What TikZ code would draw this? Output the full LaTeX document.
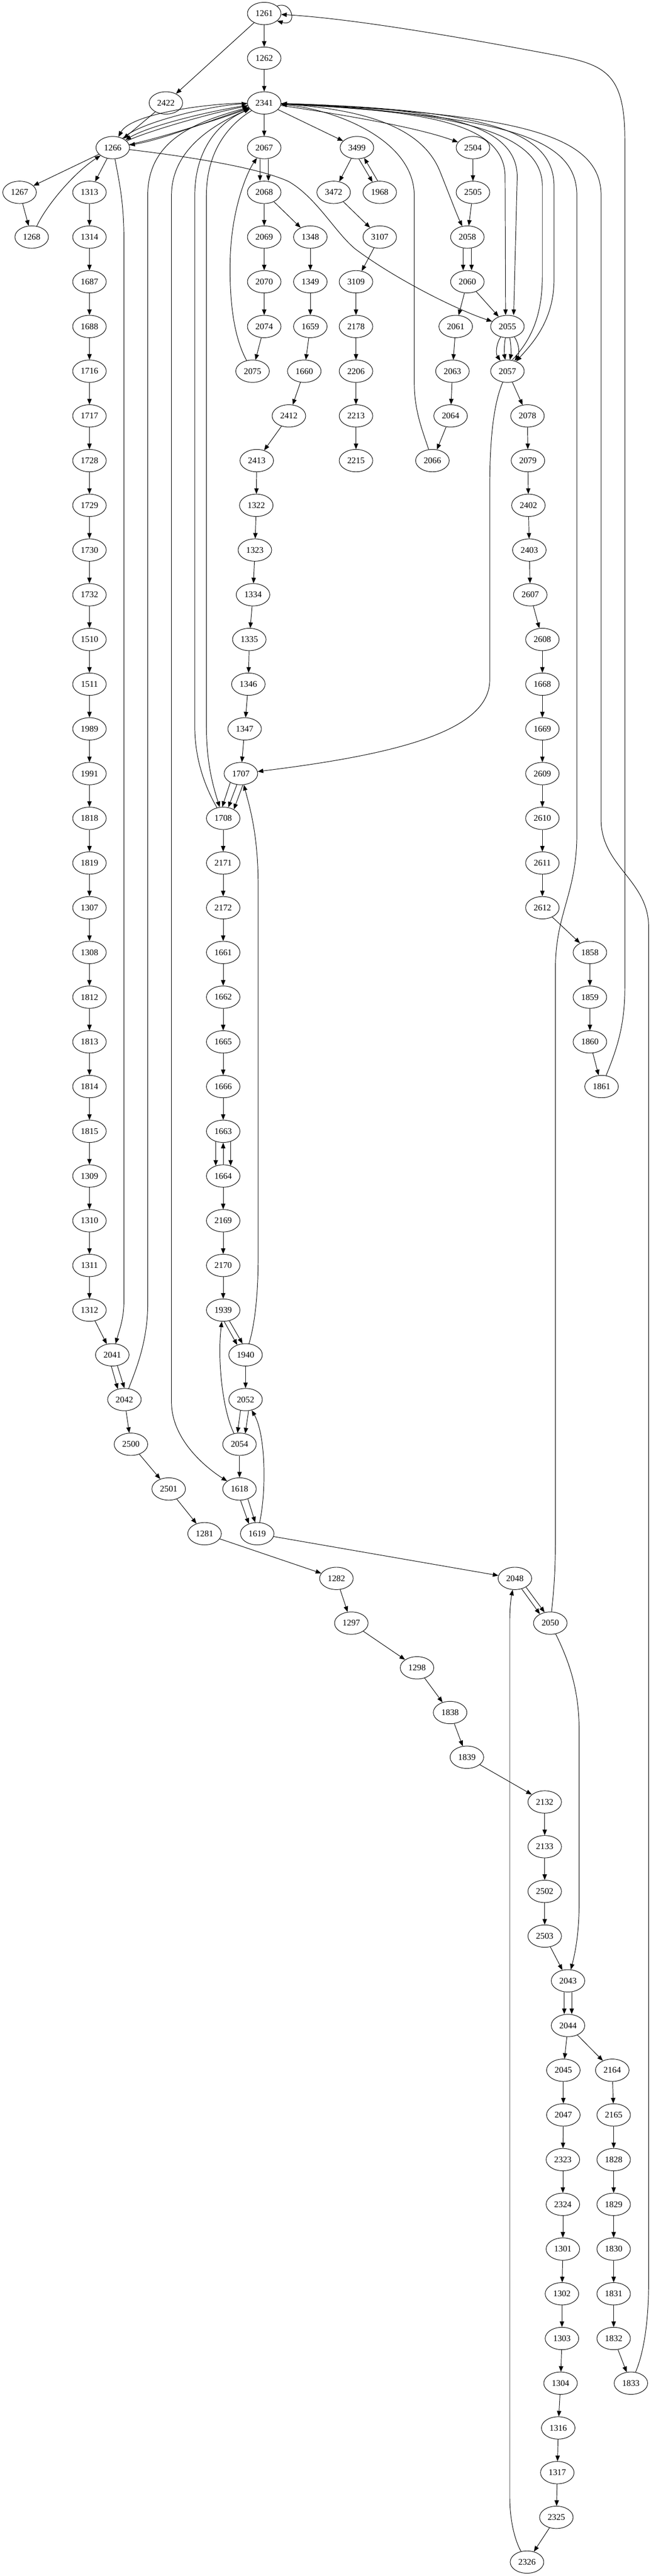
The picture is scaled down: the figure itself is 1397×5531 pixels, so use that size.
\documentclass[tikz,border=0pt]{standalone}
\usepackage{fontspec}
\setmainfont{Liberation Serif}
\usetikzlibrary{arrows.meta,shapes.geometric}
\newcommand\gvn[3]{\node[nd] (n#1) at (#2,{29+96*#3}) {#1};}
\begin{document}
\begin{tikzpicture}[x=0.75pt,y=-0.75pt,
  nd/.style={draw,ellipse,minimum width=54pt,minimum height=36pt,inner sep=0pt,line width=0.8pt,font=\fontsize{14}{16}\selectfont},
  ed/.style={draw,line width=0.8pt,-{Triangle[length=9pt,width=7pt]}}]
\useasboundingbox (0,0) rectangle (1397,5531);
\fill[white] (0,0) rectangle (1397,5531);
% nodes
\gvn{1261}{567}{0}
\gvn{1262}{567}{1}
\gvn{2422}{356}{2}
\gvn{2341}{567}{2}
\gvn{1266}{242}{3}
\gvn{2067}{567}{3}
\gvn{3499}{766}{3}
\gvn{2504}{1015}{3}
\gvn{1267}{42}{4}
\gvn{1313}{192}{4}
\gvn{2068}{567}{4}
\gvn{3472}{716}{4}
\gvn{1968}{815}{4}
\gvn{2505}{1015}{4}
\gvn{1268}{68}{5}
\gvn{1314}{192}{5}
\gvn{2069}{567}{5}
\gvn{1348}{666}{5}
\gvn{3107}{815}{5}
\gvn{2058}{1003}{5}
\gvn{1687}{192}{6}
\gvn{2070}{567}{6}
\gvn{1349}{666}{6}
\gvn{3109}{764}{6}
\gvn{2060}{1003}{6}
\gvn{1688}{192}{7}
\gvn{2074}{567}{7}
\gvn{1659}{666}{7}
\gvn{2178}{764}{7}
\gvn{2061}{978}{7}
\gvn{2055}{1089}{7}
\gvn{1716}{192}{8}
\gvn{2075}{542}{8}
\gvn{1660}{653}{8}
\gvn{2206}{764}{8}
\gvn{2063}{971}{8}
\gvn{2057}{1089}{8}
\gvn{1717}{192}{9}
\gvn{2412}{620}{9}
\gvn{2213}{764}{9}
\gvn{2064}{967}{9}
\gvn{2078}{1132}{9}
\gvn{1728}{192}{10}
\gvn{2413}{551}{10}
\gvn{2215}{764}{10}
\gvn{2066}{928}{10}
\gvn{2079}{1133}{10}
\gvn{1729}{192}{11}
\gvn{1322}{550}{11}
\gvn{2402}{1134}{11}
\gvn{1730}{192}{12}
\gvn{1323}{547}{12}
\gvn{2403}{1136}{12}
\gvn{1732}{192}{13}
\gvn{1334}{543}{13}
\gvn{2607}{1138}{13}
\gvn{1510}{192}{14}
\gvn{1335}{535}{14}
\gvn{2608}{1164}{14}
\gvn{1511}{192}{15}
\gvn{1346}{533}{15}
\gvn{1668}{1164}{15}
\gvn{1989}{192}{16}
\gvn{1347}{525}{16}
\gvn{1669}{1164}{16}
\gvn{1991}{192}{17}
\gvn{1707}{517}{17}
\gvn{2609}{1164}{17}
\gvn{1818}{192}{18}
\gvn{1708}{479}{18}
\gvn{2610}{1164}{18}
\gvn{1819}{192}{19}
\gvn{2171}{479}{19}
\gvn{2611}{1164}{19}
\gvn{1307}{192}{20}
\gvn{2172}{479}{20}
\gvn{2612}{1164}{20}
\gvn{1308}{192}{21}
\gvn{1661}{479}{21}
\gvn{1858}{1266}{21}
\gvn{1812}{192}{22}
\gvn{1662}{479}{22}
\gvn{1859}{1266}{22}
\gvn{1813}{192}{23}
\gvn{1665}{479}{23}
\gvn{1860}{1266}{23}
\gvn{1814}{192}{24}
\gvn{1666}{479}{24}
\gvn{1861}{1291}{24}
\gvn{1815}{192}{25}
\gvn{1663}{479}{25}
\gvn{1309}{192}{26}
\gvn{1664}{479}{26}
\gvn{1310}{192}{27}
\gvn{2169}{479}{27}
\gvn{1311}{192}{28}
\gvn{2170}{479}{28}
\gvn{1312}{192}{29}
\gvn{1939}{479}{29}
\gvn{2041}{241}{30}
\gvn{1940}{527}{30}
\gvn{2042}{267}{31}
\gvn{2052}{527}{31}
\gvn{2500}{281}{32}
\gvn{2054}{514}{32}
\gvn{2501}{362}{33}
\gvn{1618}{514}{33}
\gvn{1281}{439}{34}
\gvn{1619}{552}{34}
\gvn{1282}{722}{35}
\gvn{2048}{1105}{35}
\gvn{1297}{754}{36}
\gvn{2050}{1181}{36}
\gvn{1298}{895}{37}
\gvn{1838}{966}{38}
\gvn{1839}{1002}{39}
\gvn{2132}{1169}{40}
\gvn{2133}{1169}{41}
\gvn{2502}{1169}{42}
\gvn{2503}{1169}{43}
\gvn{2043}{1219}{44}
\gvn{2044}{1219}{45}
\gvn{2045}{1209}{46}
\gvn{2164}{1314}{46}
\gvn{2047}{1209}{47}
\gvn{2165}{1317}{47}
\gvn{2323}{1208}{48}
\gvn{1828}{1317}{48}
\gvn{2324}{1208}{49}
\gvn{1829}{1317}{49}
\gvn{1301}{1208}{50}
\gvn{1830}{1317}{50}
\gvn{1302}{1206}{51}
\gvn{1831}{1317}{51}
\gvn{1303}{1206}{52}
\gvn{1832}{1317}{52}
\gvn{1304}{1203}{53}
\gvn{1833}{1354}{53}
\gvn{1316}{1198}{54}
\gvn{1317}{1196}{55}
\gvn{2325}{1194}{56}
\gvn{2326}{1131}{57}
% straight edges
\foreach \a/\b in {1261/1262,1261/2422,1262/2341,2422/1266,2341/2067,2341/3499,
 1266/1267,1266/1313,1267/1268,2068/2069,2068/1348,3499/3472,2504/2505,2505/2058,
 1313/1314,1314/1687,2069/2070,1348/1349,3472/3107,2060/2061,2060/2055,
 1687/1688,2070/2074,1349/1659,3107/3109,1688/1716,2074/2075,1659/1660,3109/2178,
 2061/2063,1716/1717,1660/2412,2178/2206,2063/2064,2057/2078,1717/1728,2412/2413,
 2206/2213,2064/2066,2078/2079,1728/1729,2413/1322,2213/2215,2079/2402,1729/1730,
 1322/1323,2402/2403,1730/1732,1323/1334,2403/2607,1732/1510,1334/1335,2607/2608,
 1510/1511,1335/1346,2608/1668,1511/1989,1346/1347,1668/1669,1989/1991,1347/1707,
 1669/2609,1991/1818,2609/2610,1818/1819,1708/2171,2610/2611,1819/1307,2171/2172,
 2611/2612,1307/1308,2172/1661,2612/1858,1308/1812,1661/1662,1858/1859,1812/1813,
 1662/1665,1859/1860,1813/1814,1665/1666,1860/1861,1814/1815,1666/1663,1815/1309,
 1309/1310,1664/2169,1310/1311,2169/2170,1311/1312,2170/1939,1312/2041,1940/2052,
 2042/2500,2054/1618,2500/2501,2501/1281,1281/1282,1619/2048,1282/1297,1297/1298,
 1298/1838,1838/1839,1839/2132,2132/2133,2133/2502,2502/2503,2503/2043,2044/2045,
 2044/2164,2045/2047,2164/2165,2047/2323,2165/1828,2323/2324,1828/1829,2324/1301,
 1829/1830,1301/1302,1830/1831,1302/1303,1831/1832,1303/1304,1832/1833,1304/1316,
 1316/1317,1317/2325,2325/2326}
 {\draw[ed] (n\a) -- (n\b);}
% self loop
\draw[ed] (n1261.30) .. controls (628,0) and (640,58) .. (n1261.-30);
% parallel / paired edges
\draw[ed] ([xshift=-6.75pt]n2067.south) -- ([xshift=-6.75pt]n2068.north);
\draw[ed] ([xshift=6.75pt]n2067.south) -- ([xshift=6.75pt]n2068.north);
\draw[ed] (n3499.-80) -- (n1968.125);
\draw[ed] (n1968.100) -- (n3499.-55);
\draw[ed] ([xshift=-6.75pt]n2058.south) -- ([xshift=-6.75pt]n2060.north);
\draw[ed] ([xshift=6.75pt]n2058.south) -- ([xshift=6.75pt]n2060.north);
\draw[ed] (n2055) .. controls (1064,740) and (1064,760) .. (n2057);
\draw[ed] (n2055) .. controls (1082,740) and (1082,760) .. (n2057);
\draw[ed] (n2055) .. controls (1097,740) and (1097,760) .. (n2057);
\draw[ed] (n2055) .. controls (1115,740) and (1115,760) .. (n2057);
\draw[ed] (n1707.-140) -- (n1708.95);
\draw[ed] (n1707.-110) -- (n1708.65);
\draw[ed] (n1707.-80) -- (n1708.40);
\draw[ed] ([xshift=-12pt,yshift=1.9pt]n1663.south) -- ([xshift=-12pt,yshift=-1.9pt]n1664.north);
\draw[ed] (n1664) -- (n1663);
\draw[ed] ([xshift=12pt,yshift=1.9pt]n1663.south) -- ([xshift=12pt,yshift=-1.9pt]n1664.north);
\draw[ed] (n1939.-85) -- (n1940.130);
\draw[ed] (n1939.-60) -- (n1940.105);
\draw[ed] (n2041.-95) -- (n2042.122);
\draw[ed] (n2041.-65) -- (n2042.90);
\draw[ed] (n2052.-115) -- (n2054.100);
\draw[ed] (n2052.-75) -- (n2054.62);
\draw[ed] (n1618.-85) -- (n1619.130);
\draw[ed] (n1618.-50) -- (n1619.100);
\draw[ed] (n2048.-57) -- (n2050.139);
\draw[ed] (n2048.-38) -- (n2050.118);
\draw[ed] ([xshift=-6pt]n2043.south) -- ([xshift=-6pt]n2044.north);
\draw[ed] ([xshift=6pt]n2043.south) -- ([xshift=6pt]n2044.north);
% 2341 <-> 1266 bundle
\draw[ed] (n2341) .. controls (440,222) and (280,245) .. (n1266);
\draw[ed] (n2341) .. controls (450,238) and (320,270) .. (n1266);
\draw[ed] (n2341) .. controls (460,255) and (350,300) .. (n1266);
\draw[ed] (n1266) .. controls (300,262) and (455,226) .. (n2341);
\draw[ed] (n1266) .. controls (320,280) and (465,240) .. (n2341);
\draw[ed] (n1266) .. controls (340,298) and (475,254) .. (n2341);
% curved edges top
\draw[ed] (n2341) .. controls (760,250) and (900,275) .. (n2504);
\draw[ed] (n2341) .. controls (800,235) and (910,280) .. (945,370) .. controls (965,420) and (980,460) .. (n2058);
\draw[ed] (n2066) .. controls (905,920) and (889,880) .. (889,820) -- (889,420) .. controls (889,300) and (720,235) .. (n2341);
\draw[ed] (n2341) .. controls (900,238) and (1084,260) .. (1084,380) -- ([xshift=-3pt]n2055.north);
\draw[ed] (n2341) .. controls (920,232) and (1110,258) .. (1110,380) -- ([xshift=10pt]n2055.north);
\draw[ed] ([xshift=8pt]n2057.north) .. controls (1150,720) and (1164,660) .. (1164,590) -- (1164,400) .. controls (1164,290) and (1000,240) .. (n2341);
\draw[ed] (n2341) .. controls (1040,235) and (1189,280) .. (1189,400) -- (1189,600) .. controls (1189,690) and (1140,740) .. (n2057);
\draw[ed] (n2050) .. controls (1188,3420) and (1192,3380) .. (1192,3300) -- (1192,2080) .. controls (1192,1960) and (1238,1920) .. (1238,1790) -- (1238,420) .. controls (1238,300) and (1100,250) .. (n2341);
\draw[ed] (n1833) .. controls (1378,5060) and (1392,5000) .. (1392,4900) -- (1392,1990) .. controls (1392,1890) and (1290,1860) .. (1290,1760) -- (1290,420) .. controls (1290,290) and (1120,245) .. (n2341);
\draw[ed] (n1861) .. controls (1325,2250) and (1341,2200) .. (1341,2120) -- (1341,300) .. controls (1341,160) and (1300,140) .. (1200,120) .. controls (1000,82) and (760,40) .. (n1261);
\draw[ed] (n2341) .. controls (460,265) and (368,320) .. (368,420) -- (368,3010) .. controls (368,3090) and (440,3150) .. (n1618);
\draw[ed] (n2042) .. controls (292,2940) and (317,2880) .. (317,2800) -- (317,420) .. controls (317,300) and (420,262) .. (n2341);
\draw[ed] (n1708) .. controls (440,1690) and (418,1630) .. (418,1560) -- (418,420) .. controls (418,320) and (470,262) .. (n2341);
\draw[ed] (n2341) .. controls (495,265) and (443,320) .. (443,420) -- (443,1560) .. controls (443,1640) and (458,1690) .. (n1708);
\draw[ed] (n1266) .. controls (258,400) and (266,440) .. (266,520) -- (266,2790) .. controls (266,2830) and (258,2850) .. (n2041);
\draw[ed] (n1266) .. controls (420,338) and (560,362) .. (620,390) .. controls (680,425) and (720,500) .. (763,535) .. controls (850,600) and (980,665) .. (n2055);
\draw[ed] (n1268) .. controls (100,440) and (160,370) .. (n1266);
\draw[ed] (n2075) .. controls (505,730) and (492,660) .. (494,560) .. controls (496,450) and (530,370) .. (n2067);
% middle and lower curves
\draw[ed] (n2057) .. controls (1058,870) and (1051,950) .. (1051,1050) -- (1051,1460) .. controls (1051,1570) and (850,1620) .. (n1707);
\draw[ed] (n1940) .. controls (545,2850) and (554,2790) .. (554,2700) -- (554,1900) .. controls (554,1790) and (535,1730) .. (n1707);
\draw[ed] (n2054) .. controls (478,3030) and (466,2920) .. (n1939);
\draw[ed] (n1619) .. controls (572,3200) and (570,3080) .. (n2052);
\draw[ed] (n2050) .. controls (1228,3580) and (1243,3640) .. (1243,3720) -- (1243,4080) .. controls (1243,4150) and (1235,4190) .. (n2043);
\draw[ed] (n2326) .. controls (1108,5460) and (1094,5420) .. (1094,5360) -- (1094,3480) .. controls (1094,3450) and (1097,3430) .. (n2048);
\end{tikzpicture}
\end{document}
